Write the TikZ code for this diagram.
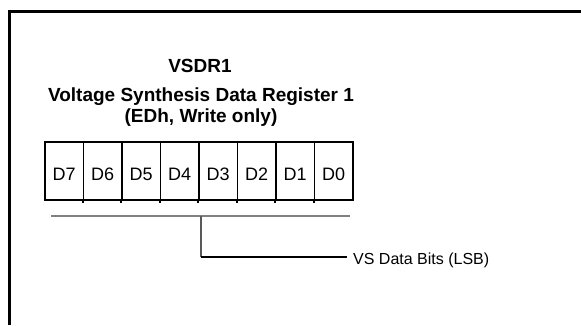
\documentclass[tikz,border=0pt]{standalone}
\usepackage{fontspec}
\setmainfont{Liberation Sans}
\begin{document}
\begin{tikzpicture}[x=1pt,y=-1pt,
  frameline/.style={line width=2.5pt,black},
  title/.style={font=\fontsize{19}{22}\selectfont\bfseries,anchor=base,inner sep=0pt},
  cell/.style={draw,line width=1.7pt,minimum width=38.5pt,minimum height=58pt,inner sep=0pt,
    font=\fontsize{18}{21}\selectfont,text height=18pt,text depth=0pt},
  tick/.style={line width=1.7pt},
  bus/.style={line width=1.6pt,gray},
  tapline/.style={line width=1.5pt,gray!70!black},
  lead/.style={line width=2pt,black},
  lbl/.style={font=\fontsize{16}{19}\selectfont,anchor=base west,inner sep=0pt}]
\useasboundingbox (0,0) rectangle (581,325);
% frame
\draw[frameline] (9.5,325) -- (9.5,11.5) -- (581,11.5);
% titles
\node[title] (t1) at (200,72.7) {VSDR1};
\node[title] (t2) at (201,101.5) {Voltage Synthesis Data Register 1};
\node[title] (t3) at (201,122.5) {(EDh, Write only)};
% register cells
\foreach \i [count=\k from 0] in {7,6,5,4,3,2,1,0}{
  \node[cell] (d\i) at ({45+19.25+38.5*\k},171) {D\i};
}
\foreach \i in {6,5,4,3,2,1,0}{
  \draw[tick] (d\i.south west) -- ++(0,2.5);
}
% bus line and tap
\coordinate (busL) at (51,216);
\coordinate (busR) at (350,216);
\draw[bus] (busL) -- (busR);
\coordinate (tap) at (201,216);
\coordinate (corner) at (201,257);
\node[lbl] (vs) at (353,264.5) {VS Data Bits (LSB)};
\draw[tapline] (tap) -- (corner);
\draw[lead] (corner) -- ([xshift=-6pt]vs.west |- corner);
\end{tikzpicture}
\end{document}
